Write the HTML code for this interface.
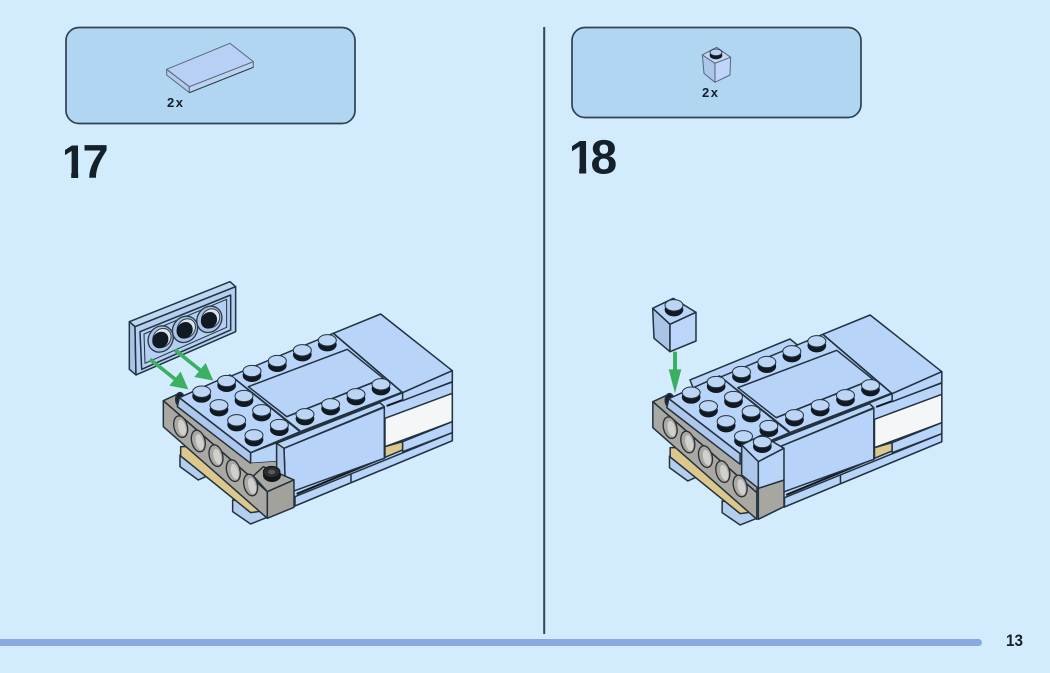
<!DOCTYPE html>
<html><head><meta charset="utf-8"><style>
html,body{margin:0;padding:0;background:#d3ecfd;width:1050px;height:673px;overflow:hidden}
svg{display:block;filter:blur(.35px)}
text{font-family:"Liberation Sans",sans-serif;font-weight:700;fill:#14202a}
</style></head><body>
<svg width="1050" height="673" viewBox="0 0 1050 673" xmlns="http://www.w3.org/2000/svg">
<defs>
<g id="s"><ellipse cx="0" cy="6" rx="28" ry="20" fill="#111a22"/><ellipse cx="0" cy="-7" rx="27" ry="17" fill="#bcd5f5" stroke="#22323f" stroke-width="3"/></g>
<g id="h"><ellipse rx="20" ry="33" transform="rotate(-14)" fill="#aaa8a3" stroke="#2a3036" stroke-width="4"/><ellipse cx="4" cy="3" rx="11" ry="24" transform="rotate(-14 4 3)" fill="#d0d0cc"/></g>
<g id="p"><ellipse rx="36" ry="41" transform="rotate(35)" fill="#a9c4e6" stroke="#2a3a48" stroke-width="4"/><ellipse cx="4" cy="-3" rx="26" ry="30" transform="rotate(35 4 -3)" fill="#dbe3ec" stroke="#2a3a48" stroke-width="3"/><ellipse cx="-1" cy="3" rx="23" ry="26" transform="rotate(40 -1 3)" fill="#111a22"/></g>
<g id="body" stroke="#22323f" stroke-width="4.5" stroke-linejoin="round" fill="#b9d4f9">
  <polygon points="180,555 180,590 235,630 262,618 230,585" fill="#b4cfee"/>
  <polygon points="338,690 338,725 392,762 442,742 410,700" fill="#b4cfee"/>
  <polygon points="182,530 182,558 392,728 415,725 440,700 240,530" fill="#dcc88d"/>
  <polygon points="470,520 848,368 997,302 997,512 525,708 470,700" fill="#b9d4f9"/>
  <polygon points="795,445 997,370 997,455 795,530" fill="#f5f6f7"/>
  <polygon points="795,530 848,515 848,540 795,562" fill="#dcc88d"/>
  <polygon points="848,515 997,455 997,488 848,545" fill="#b9d4f9"/>
  <polygon points="525,680 997,488 997,512 525,708" fill="#b9d4f9"/>
  <path d="M693,612V636" fill="none"/>
  <path d="M530,672L795,562M800,408L997,335" fill="none" stroke="#10181f" stroke-width="6"/>
  <polygon points="640,190 782,132 997,302 848,368" fill="#b9d4f9"/>
  <polygon points="848,368 997,302 997,335 848,392" fill="#b9d4f9"/>
  <polygon points="178,383 640,190 848,368 392,548" fill="#b9d4f9"/>
  <polygon points="385,350 682,238 790,325 500,440" fill="#b7d3f8"/>
  <path d="M330,315L540,482M640,190L848,368M500,440L790,325M540,485L845,367" fill="none"/>
  <polygon points="130,392 182,368 445,600 442,665" fill="#aaa8a3"/>
  <polygon points="130,392 442,665 442,745 130,470" fill="#aaa8a3"/>
  <ellipse cx="180" cy="388" rx="13" ry="20" fill="#1a2026"/>
  <polygon points="178,383 392,548 392,580 172,410" fill="#adc8ec"/>
  <polygon points="392,548 470,518 470,575 392,580" fill="#b7d3f8"/>
  <polygon points="392,580 470,575 470,600 430,592 392,605" fill="#aaa8a3" stroke="none"/>
  <polygon points="178,383 392,548 540,485 330,315" fill="#b9d4f9"/>
  <polygon points="470,520 780,398 793,410 492,535" fill="#b9d4f9"/>
  <polygon points="492,535 793,412 793,565 497,672" fill="#b8d3f9"/>
  <polygon points="470,520 492,535 497,672 470,650" fill="#acc7ea"/>
  <g stroke="none">
  <use href="#h" x="182" y="470"/><use href="#h" x="235" y="513"/><use href="#h" x="288" y="557"/><use href="#h" x="340" y="602"/><use href="#h" x="392" y="645"/>
  <use href="#s" x="396" y="310"/><use href="#s" x="472" y="280"/><use href="#s" x="547" y="248"/><use href="#s" x="622" y="218"/>
  <use href="#s" x="555" y="440"/><use href="#s" x="632" y="410"/><use href="#s" x="708" y="380"/><use href="#s" x="783" y="350"/>
  <use href="#s" x="245" y="372"/><use href="#s" x="320" y="340"/><use href="#s" x="297" y="413"/><use href="#s" x="372" y="385"/>
  <use href="#s" x="350" y="458"/><use href="#s" x="425" y="428"/><use href="#s" x="402" y="503"/><use href="#s" x="478" y="472"/>
  </g>
</g>
</defs>

<rect x="66" y="27.5" width="289" height="96" rx="13" fill="#b1d6f2" stroke="#2f4252" stroke-width="1.7"/>
<rect x="572" y="27.5" width="289" height="90" rx="13" fill="#b1d6f2" stroke="#2f4252" stroke-width="1.7"/>
<rect x="543.2" y="27" width="2" height="607" fill="#36454f"/>
<rect x="-8" y="639" width="990" height="7" rx="3.5" fill="#8aa9de"/>

<text x="60.6" y="178" font-size="47">1</text>
<rect x="58" y="140" width="7" height="40" fill="#d3ecfd"/>
<rect x="58" y="171.5" width="13.2" height="8" fill="#d3ecfd"/>
<rect x="78.2" y="171.5" width="12" height="8" fill="#d3ecfd"/>
<text x="82.5" y="178" font-size="47">7</text>
<text x="568.6" y="173.5" font-size="47">1</text>
<rect x="566" y="135" width="6" height="40" fill="#d3ecfd"/>
<rect x="566" y="167" width="13.2" height="8" fill="#d3ecfd"/>
<rect x="586.2" y="167" width="10" height="8" fill="#d3ecfd"/>
<text x="590.5" y="173.5" font-size="48">8</text>
<text x="1006" y="646" font-size="17" textLength="17" lengthAdjust="spacingAndGlyphs">13</text>
<text x="167" y="107" font-size="13" textLength="16">2x</text>
<text x="702" y="97" font-size="13" textLength="16">2x</text>

<g transform="translate(50,20) scale(.3333)" stroke="#55687d" stroke-width="3" stroke-linejoin="round">
  <polygon points="350,148 418,200 418,218 350,165" fill="#b5cbe8"/>
  <polygon points="418,200 610,125 610,142 418,218" fill="#bcd3ef"/>
  <polygon points="350,148 540,70 610,125 418,200" fill="#b9d0f6"/>
  <path d="M418,218L610,142" stroke="#2a3a48" fill="none"/>
</g>
<g transform="translate(560,20) scale(.3333)" stroke="#55687d" stroke-width="3" stroke-linejoin="round">
  <polygon points="427,105 470,82 512,112 465,130" fill="#c5d8f3"/>
  <polygon points="427,105 465,130 465,187 432,160" fill="#adc6ea"/>
  <polygon points="465,130 512,112 510,165 465,187" fill="#bfd6fa"/>
  <ellipse cx="468" cy="106" rx="19" ry="12" fill="#111a22" stroke="none"/>
  <ellipse cx="468" cy="97" rx="18" ry="10" fill="#b9d0f0" stroke="#22323f" stroke-width="2.5"/>
</g>

<g transform="translate(120,270) scale(.3333)">
  <use href="#body"/>
  <g stroke="#22323f" stroke-width="4.5" stroke-linejoin="round">
    <polygon points="400,618 430,590 522,630 442,665" fill="#aaa8a3"/>
    <polygon points="442,665 522,630 522,712 442,745" fill="#a3a19b"/>
    <ellipse cx="456" cy="616" rx="27" ry="20" fill="#11171c" stroke="none"/>
    <ellipse cx="455" cy="606" rx="25" ry="17" fill="#2a2e31" stroke="#0e1418" stroke-width="3"/>
    <ellipse cx="455" cy="606" rx="11" ry="7" fill="#5a5a58" stroke="none"/>
    <polygon points="28,155 330,35 347,50 45,170" fill="#c0d7f4"/>
    <polygon points="28,155 45,170 48,315 28,298" fill="#a9c4e6"/>
    <polygon points="45,170 347,50 347,185 48,315" fill="#b4cff2"/>
    <polygon points="60,185 332,75 332,180 65,298" fill="#b4cff2"/>
    <polygon points="72,192 320,88 320,172 75,280" fill="#b4cff2" stroke-width="3"/>
  </g>
  <use href="#p" x="122" y="207"/><use href="#p" x="195" y="178"/><use href="#p" x="268" y="148"/>
  <g fill="#3cb062" stroke="#3cb062">
    <path d="M90,268L175,335M165,240L250,308" fill="none" stroke-width="11"/>
    <polygon points="205,358 148,347 182,305" stroke="none"/>
    <polygon points="280,332 223,321 257,279" stroke="none"/>
  </g>
</g>

<g transform="translate(630,285) scale(.3333)">
  <polygon points="180,285 480,162 505,182 190,310" fill="#b9d4f9" stroke="#22323f" stroke-width="4.5" stroke-linejoin="round"/>
  <use href="#body" x="-61.5" y="-42"/>
  <g stroke="#22323f" stroke-width="4.5" stroke-linejoin="round">
    <polygon points="385,610 462,585 462,665 385,703" fill="#a8a6a0"/>
    <polygon points="335,480 395,450 462,490 385,530" fill="#b9d4f9"/>
    <polygon points="335,480 385,530 385,610 335,570" fill="#acc7ea"/>
    <polygon points="385,530 462,490 462,585 385,610" fill="#b9d4f9"/>
    <polygon points="68,70 130,40 198,82 120,118" fill="#b9d4f9"/>
    <polygon points="68,70 120,118 120,200 72,160" fill="#a9c4e6"/>
    <polygon points="120,118 198,82 198,168 120,200" fill="#bcd6fb"/>
  </g>
  <use href="#s" x="397" y="478"/>
  <use href="#s" x="132" y="68"/>
  <g fill="#3cb062">
    <rect x="129" y="200" width="12" height="60"/>
    <polygon points="135,325 116,253 154,253"/>
  </g>
</g>
</svg>
</body></html>
